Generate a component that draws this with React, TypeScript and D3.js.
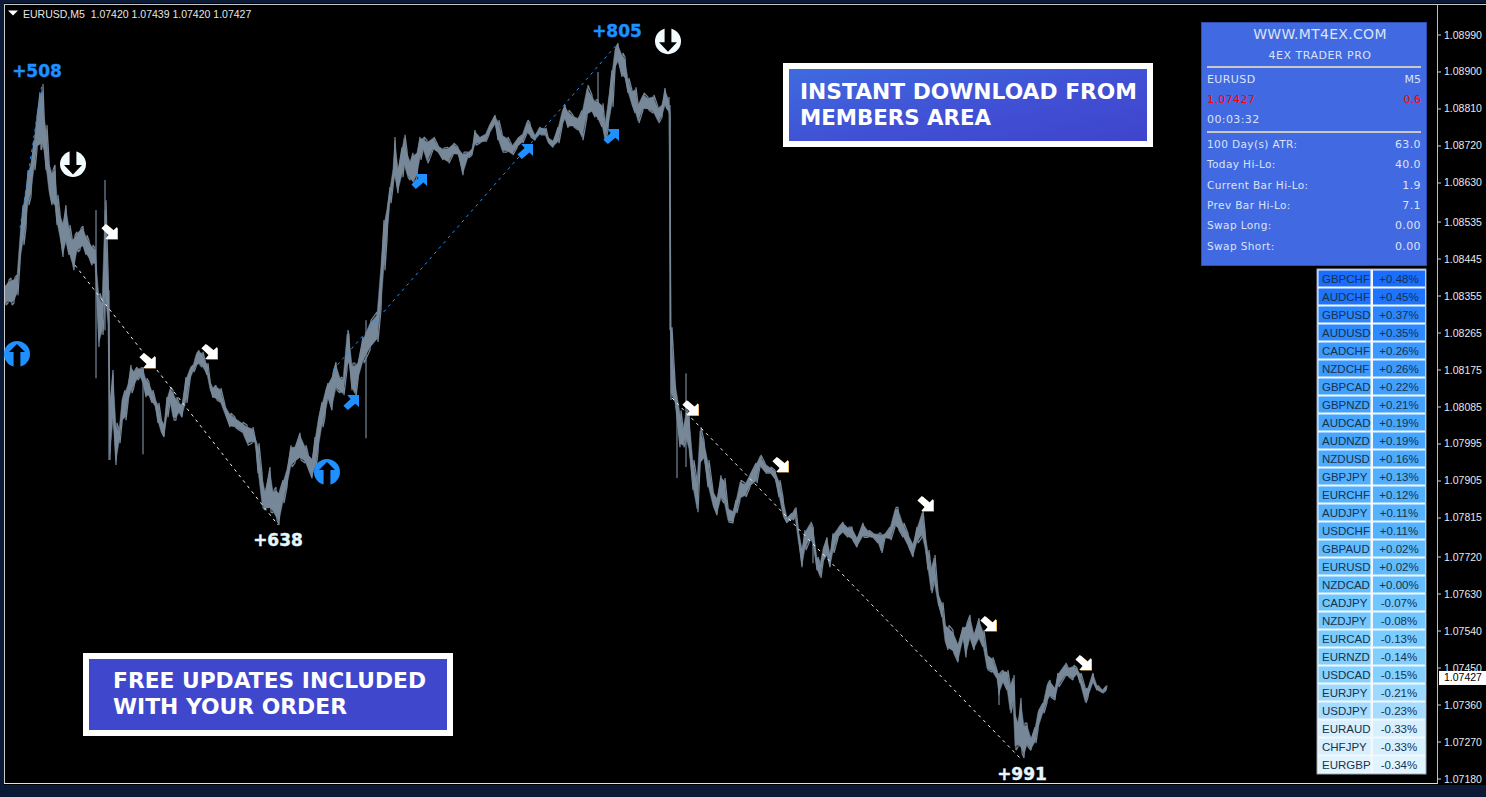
import React from "react";
import * as d3 from "d3";

// Each row: [bar number, high, low]
const legRally: number[][] = [
[5,1.08382,1.08333],[8,1.08394,1.08338],[11,1.08399,1.08333],[14,1.08401,1.08338],[17,1.08406,1.08357],[20,1.08508,1.08435],[23,1.08576,1.08479],[26,1.08625,1.0852],[28,1.08661,1.08576],[31,1.08686,1.08596],[34,1.08734,1.08661],[37,1.08807,1.0871],[40,1.08851,1.0871],[42,1.08871,1.08715],[44,1.08803,1.08698],[46,1.08771,1.08661],[49,1.08686,1.08601],[52,1.08661,1.08576],[55,1.08674,1.08564],[57,1.08601,1.08528],[60,1.08557,1.08491],[63,1.0854,1.0845],[66,1.08576,1.08479],[69,1.08528,1.08455],[72,1.08498,1.0843],[74,1.08503,1.08418],[77,1.08511,1.08462],[80,1.0852,1.08467],[83,1.08525,1.08472],[86,1.08503,1.08455],[89,1.08491,1.08442],[92,1.08479,1.0843],[95,1.08472,1.0843],[99,1.08362,1.08231],[102,1.08345,1.0826],[105,1.08588,1.08345],[108,1.08418,1.08272]
];
const legFall: number[][] = [
[110,1.08109,1.07956],[113,1.08175,1.08046],[116,1.08046,1.07944],[119,1.08029,1.07997],[122,1.08109,1.08046],[125,1.08126,1.08053],[128,1.08146,1.08095],[131,1.08187,1.08119],[134,1.08175,1.08133],[137,1.08182,1.0815],[140,1.0818,1.08158],[143,1.0818,1.08138],[146,1.08155,1.08109],[149,1.08146,1.08109],[152,1.08126,1.08095],[155,1.08107,1.08085],[158,1.08095,1.08046],[161,1.0806,1.08021],[164,1.08046,1.08012],[167,1.08109,1.0806],[170,1.08133,1.08095],[173,1.08126,1.08053],[176,1.08109,1.08053],[179,1.08095,1.0807],[182,1.08095,1.0806],[186,1.08158,1.08095],[190,1.08182,1.0815],[193,1.08187,1.0817],[196,1.08216,1.08182],[199,1.08223,1.08187],[202,1.08219,1.08182],[205,1.08199,1.0817],[207,1.08192,1.08163],[210,1.0815,1.08126],[213,1.08133,1.08107],[216,1.08138,1.08102],[220,1.08131,1.08097],[225,1.0809,1.08065],[230,1.0807,1.08036],[235,1.0806,1.08034],[242,1.08048,1.08024],[247,1.08041,1.07992],[252,1.08036,1.07997],[255,1.08012,1.07997],[258,1.07997,1.07924],[262,1.07924,1.07841],[265,1.07883,1.07834],[270,1.07939,1.07829],[273,1.07883,1.07827],[276,1.0789,1.0781],[279,1.07883,1.07798]
];
const legRebound: number[][] = [
[283,1.07907,1.07851],[287,1.07939,1.0789],[291,1.07992,1.07939],[295,1.07992,1.07949],[300,1.08022,1.07956],[305,1.07992,1.07949],[308,1.07973,1.07931],[312,1.07963,1.07912],[315,1.08012,1.07931],[318,1.0806,1.07973],[322,1.08097,1.08036],[325,1.08126,1.0806],[328,1.08143,1.08102],[332,1.08167,1.08077],[336,1.08194,1.08126],[340,1.08158,1.08119],[343,1.08155,1.08114],[347,1.08272,1.08175],[349,1.0826,1.08187],[352,1.08192,1.08126],[355,1.08192,1.08109],[358,1.08199,1.0815],[363,1.08255,1.08192],[370,1.08296,1.08223],[377,1.08316,1.08243],[381,1.08442,1.08321],[384,1.0854,1.08418],[387,1.08576,1.08491],[390,1.0862,1.08581],[393,1.08669,1.0862],[395,1.08742,1.08637],[398,1.08669,1.08605],[402,1.08717,1.08644],[404,1.08747,1.08669],[407,1.0871,1.08644],[410,1.08686,1.08637],[413,1.08703,1.08625],[417,1.0871,1.08644]
];
const legPlateau: number[][] = [
[420,1.08742,1.08686],[423,1.08742,1.0871],[427,1.08734,1.08678],[433,1.08742,1.0871],[438,1.08722,1.08703],[443,1.08715,1.08686],[448,1.08717,1.08678],[453,1.08727,1.08698],[458,1.08717,1.08698],[463,1.08705,1.08649],[468,1.08705,1.08691],[472,1.08715,1.08698],[475,1.08759,1.08722],[480,1.08742,1.08727],[485,1.08747,1.0873],[489,1.08771,1.08747],[495,1.08795,1.08771],[498,1.08783,1.08734],[502,1.08751,1.08705],[507,1.08742,1.08705],[512,1.08722,1.08698],[517,1.08739,1.08715],[522,1.08747,1.08727],[527,1.08783,1.08751],[530,1.08776,1.08742],[535,1.08747,1.08734],[540,1.08766,1.08747],[545,1.08764,1.08747],[548,1.08742,1.08727],[553,1.08734,1.08717],[558,1.08766,1.08727],[562,1.08807,1.08766],[565,1.0882,1.08783],[568,1.08807,1.08764],[573,1.08795,1.08766],[578,1.0879,1.08759],[582,1.08807,1.08734],[587,1.08868,1.0879],[592,1.08844,1.088],[595,1.08832,1.0879],[598,1.08832,1.08783],[602,1.08824,1.08766],[605,1.08776,1.0873],[608,1.08832,1.08759],[612,1.08905,1.08815],[615,1.08961,1.08905],[618,1.0897,1.08922],[622,1.08946,1.08888],[625,1.08936,1.0888],[628,1.08885,1.08849],[632,1.08856,1.08815],[635,1.08863,1.088],[638,1.08824,1.08776],[643,1.08849,1.08807],[648,1.08839,1.08807],[653,1.08844,1.088],[658,1.08815,1.08776],[662,1.08824,1.0879],[665,1.08861,1.08815],[668,1.08839,1.08807],[669,1.0882,1.08795]
];
const legCollapse: number[][] = [
[671,1.08279,1.08102],[675,1.0815,1.0809],[680,1.08077,1.07987],[683,1.08036,1.07987],[686,1.08077,1.08004],[689,1.0807,1.07973],[693,1.07956,1.07883],[697,1.07907,1.07829],[700,1.08036,1.07939],[704,1.08004,1.07956],[708,1.07956,1.0789],[713,1.07883,1.07841],[717,1.07866,1.07822],[721,1.07919,1.07859],[724,1.07912,1.07851],[728,1.07841,1.07805],[733,1.07834,1.07803],[736,1.07859,1.07827],[740,1.07907,1.07859],[745,1.079,1.07866],[750,1.07924,1.0789],[756,1.07949,1.079],[760,1.07968,1.07939],[765,1.07949,1.07924],[770,1.07939,1.07924],[775,1.07931,1.07907],[779,1.07907,1.07866],[783,1.07866,1.07817],[787,1.07817,1.07803],[792,1.07827,1.0781],[795,1.07841,1.07817],[798,1.07793,1.07761],[802,1.07744,1.07695],[805,1.07785,1.07737],[810,1.07805,1.07761],[813,1.07793,1.07749],[817,1.0772,1.07688],[820,1.07705,1.07669],[823,1.07744,1.07705],[827,1.07768,1.0772],[830,1.0773,1.07695],[833,1.07778,1.0773],[838,1.07793,1.07766],[843,1.07805,1.07778],[848,1.07793,1.07768],[852,1.07793,1.07761],[857,1.07768,1.07744],[863,1.07803,1.07768],[868,1.07785,1.07768],[873,1.07778,1.07766],[878,1.07778,1.07754],[881,1.07778,1.0773],[885,1.07778,1.07766],[890,1.07793,1.07761],[895,1.07841,1.07793],[898,1.07841,1.07785],[903,1.07803,1.07768],[908,1.07778,1.07744],[913,1.07754,1.0772],[917,1.07793,1.07754],[922,1.07834,1.07768]
];
const legFinal: number[][] = [
[925,1.07785,1.07737],[928,1.07737,1.07688],[931,1.07696,1.07632],[934,1.07725,1.07657],[938,1.07635,1.07603],[942,1.0761,1.07574],[945,1.07559,1.07511],[948,1.07554,1.07494],[953,1.07542,1.07486],[958,1.07511,1.07464],[963,1.0755,1.07518],[966,1.07559,1.07476],[970,1.07579,1.07518],[974,1.07535,1.07494],[979,1.07571,1.07518],[983,1.07542,1.07501],[987,1.07486,1.07445],[992,1.07476,1.0744],[997,1.07445,1.07421],[999,1.07438,1.07384],[1003,1.07445,1.07413],[1007,1.07445,1.07396],[1010,1.07413,1.0734],[1013,1.07433,1.07365],[1015,1.07348,1.0725],[1018,1.07323,1.07258],[1021,1.07377,1.07243],[1024,1.07316,1.07231],[1027,1.07316,1.07258],[1031,1.07282,1.0725],[1035,1.07306,1.07267],[1038,1.07348,1.07299],[1043,1.07365,1.0734],[1047,1.07413,1.07365],[1050,1.07421,1.07379],[1055,1.07404,1.07372],[1058,1.07438,1.07404],[1065,1.07462,1.07428],[1068,1.07452,1.07428],[1073,1.07457,1.07421],[1077,1.0745,1.07433],[1080,1.07438,1.07413],[1085,1.07404,1.07365],[1088,1.07404,1.07379],[1093,1.07438,1.07413],[1097,1.07408,1.07396],[1102,1.07396,1.07389],[1106,1.07408,1.07396]
];
// Long wicks: [bar, high, low]
const wicks: number[][] = [
[96,1.08564,1.08155],[105,1.08637,1.08272],[109,1.08369,1.07956],[143,1.0818,1.0797],[366,1.08296,1.08009],[598,1.089,1.08783],[670,1.0882,1.08272],[677,1.08085,1.07912],[686,1.08167,1.07939],[813,1.07793,1.07705],[999,1.07438,1.0736]
];

const axisTicks = [1.0899,1.089,1.0881,1.0872,1.0863,1.08535,1.08445,1.08355,1.08265,1.08175,1.08085,1.07995,1.07905,1.07815,1.0772,1.0763,1.0754,1.0745,1.0736,1.0727,1.0718];
const currentPrice = 1.07427;
const headerText = "EURUSD,M5  1.07420 1.07439 1.07420 1.07427";

const pairs = ["GBPCHF","AUDCHF","GBPUSD","AUDUSD","CADCHF","NZDCHF","GBPCAD","GBPNZD","AUDCAD","AUDNZD","NZDUSD","GBPJPY","EURCHF","AUDJPY","USDCHF","GBPAUD","EURUSD","NZDCAD","CADJPY","NZDJPY","EURCAD","EURNZD","USDCAD","EURJPY","USDJPY","EURAUD","CHFJPY","EURGBP"];
const pairChanges = [0.48,0.45,0.37,0.35,0.26,0.26,0.22,0.21,0.19,0.19,0.16,0.13,0.12,0.11,0.11,0.02,0.02,0.0,-0.07,-0.08,-0.13,-0.14,-0.15,-0.21,-0.23,-0.33,-0.33,-0.34];
const changeStops = [-0.34,-0.33,-0.23,-0.13,0,0.11,0.19,0.26,0.37,0.48];
const changeColors = ["#dff4ff","#d6f0ff","#a6dcff","#7ccdff","#62beff","#55b2ff","#46a5ff","#3c99ff","#2a85ff","#1a6dff"];

const panelRows = [["100 Day(s) ATR:","63.0"],["Today Hi-Lo:","40.0"],["Current Bar Hi-Lo:","1.9"],["Prev Bar Hi-Lo:","7.1"],["Swap Long:","0.00"],["Swap Short:","0.00"]];

const whiteLegs = [[75,1.0843,278,1.07798],[672,1.08107,1022,1.07226]];
const blueLegs = [[20,1.0852,42,1.08871],[333,1.08175,618,1.0897]];
const sellArrows = [[109,1.08511],[147,1.08197],[209,1.08219],[690,1.08082],[780,1.07944],[925,1.07849],[988,1.07557],[1083,1.07462]];
const buyArrows = [[351,1.08097],[419,1.08635],[525,1.08708],[611,1.08744]];
const buyCircles = [[17,1.08214],[327,1.07927]];
const sellCircles = [[73,1.08676],[668,1.08975]];
const gainLabels: [number, number, string, string][] = [
  [37,1.08888,"+508","#1e90ff"],
  [278,1.07747,"+638","#e6f6ff"],
  [617,1.08985,"+805","#1e90ff"],
  [1022,1.07177,"+991","#e6f6ff"],
];

const bars = [...legRally, ...legFall, ...legRebound, ...legPlateau, ...legCollapse, ...legFinal];

const x = d3.scaleLinear().domain([0, 1437]).range([0, 1437]);
const y = d3.scaleLinear().domain([1.0899, 1.0718]).range([35, 779]);
const changeColor = d3.scaleLinear<string>().domain(changeStops).range(changeColors);

// A saw-tooth running high, low, high, low through the bars gives the chart its rough edge.
const sawPoints: [number, number][] = bars.flatMap((d, i) =>
  (i % 2 === 0
    ? [[d[0], d[1]], [d[0] + 1, d[2]]]
    : [[d[0], d[2]], [d[0] + 1, d[1]]]) as [number, number][]
);
const saw = d3.line<[number, number]>().x(d => x(d[0])).y(d => y(d[1]));
// The band itself is drawn a little narrower than the saw-tooth so that the tips stand out.
const innerBand = d3.area<number[]>()
  .x(d => x(d[0]))
  .y0(d => y(d[2]) - (y(d[2]) - y(d[1])) * 0.1)
  .y1(d => y(d[1]) + (y(d[2]) - y(d[1])) * 0.1);

const SE = "M8,7 L8,-5 L4.4,-1.6 L-3.2,-8 L-7.6,-3.6 L-0.4,3 L-3.8,7 Z";
const NE = "M8,-7 L8,5 L4.4,1.6 L-3.2,8 L-7.6,3.6 L-0.4,-3 L-3.8,-7 Z";
const UP = "M0,-10 L8,-2 L3.4,-2 L3.4,13.5 L-3.4,13.5 L-3.4,-2 L-8,-2 Z";
const DOWN = "M0,10.5 L9,1 L3.4,1 L3.4,-13.5 L-3.4,-13.5 L-3.4,1 L-9,1 Z";

const ui = "'DejaVu Sans', Verdana, sans-serif";
const small = "'Liberation Sans', Arial, sans-serif";

export default function App() {
  return (
    <svg width={1486} height={797} style={{ position: "absolute", left: 0, top: 0, background: "#000" }}>
      <defs>
        <linearGradient id="btn" x1="0" y1="0" x2="1" y2="1">
          <stop offset="0" stopColor="#3f6ce0" />
          <stop offset="0.55" stopColor="#4050d4" />
          <stop offset="1" stopColor="#3f44cc" />
        </linearGradient>
        <clipPath id="plot"><rect x={5} y={5} width={1432} height={778} /></clipPath>
      </defs>
      {/* window frame */}
      <rect x={0} y={0} width={1486} height={3} fill="#0a1a35" />
      <rect x={0} y={0} width={4} height={797} fill="#0a1a35" />
      <rect x={0} y={785} width={1486} height={12} fill="#0a1a35" />
      <rect x={4} y={4} width={1482} height={1} fill="#c8c8c8" />
      <rect x={4} y={4} width={1} height={780} fill="#c8c8c8" />
      <rect x={4} y={783} width={1434} height={1} fill="#e0e0e0" />
      <rect x={1437} y={4} width={1} height={780} fill="#c0c0c0" />

      {/* axis */}
      {axisTicks.map(t => (
        <g key={t}>
          <line x1={1438} x2={1441} y1={y(t)} y2={y(t)} stroke="#d0d0d0" />
          <text x={1444} y={y(t) + 3.5} fontFamily={small} fontSize={10.5} fill="#e8e8e8">{t.toFixed(5)}</text>
        </g>
      ))}
      <rect x={1439} y={y(currentPrice) - 6.5} width={47} height={14} fill="#fff" />
      <text x={1444} y={y(currentPrice) + 4} fontFamily={small} fontSize={10.5} fill="#000">{currentPrice.toFixed(5)}</text>

      {/* price */}
      <g clipPath="url(#plot)">
        <path d={innerBand(bars) ?? ""} fill="#778899" stroke="#778899" strokeWidth={0.5} />
        <path d={saw(sawPoints) ?? ""} fill="none" stroke="#778899" strokeWidth={1.2} strokeLinejoin="bevel" />
        {wicks.map(w => (
          <line key={w[0]} x1={x(w[0])} x2={x(w[0])} y1={y(w[1])} y2={y(w[2])} stroke="#778899" strokeWidth={1.2} />
        ))}
        {whiteLegs.map((l, i) => (
          <line key={i} x1={x(l[0])} y1={y(l[1])} x2={x(l[2])} y2={y(l[3])} stroke="#e8f4f4" strokeWidth={1} strokeDasharray="3 4" />
        ))}
        {blueLegs.map((l, i) => (
          <line key={i} x1={x(l[0])} y1={y(l[1])} x2={x(l[2])} y2={y(l[3])} stroke="#1e90ff" strokeWidth={1} strokeDasharray="3 4" />
        ))}
      </g>

      {/* signals */}
      {sellArrows.map((a, i) => (
        <g key={i} transform={`translate(${x(a[0])},${y(a[1])})`}>
          <path d={SE} transform="translate(1,0.5)" fill="#f0c060" />
          <path d={SE} fill="#fff" />
        </g>
      ))}
      {buyArrows.map((a, i) => (
        <path key={i} d={NE} transform={`translate(${x(a[0])},${y(a[1])})`} fill="#1e90ff" />
      ))}
      {buyCircles.map((a, i) => (
        <g key={i} transform={`translate(${x(a[0])},${y(a[1])})`}>
          <circle r={13} fill="#1e90ff" />
          <path d={UP} fill="#000" />
        </g>
      ))}
      {sellCircles.map((a, i) => (
        <g key={i} transform={`translate(${x(a[0])},${y(a[1])})`}>
          <circle r={13} fill="#f2fbff" />
          <path d={DOWN} fill="#000" />
        </g>
      ))}
      {gainLabels.map(l => (
        <text key={l[2]} x={x(l[0])} y={y(l[1])} textAnchor="middle" fontFamily={ui} fontWeight="bold" fontSize={17} fill={l[3]} stroke={l[3]} strokeWidth={0.4}>{l[2]}</text>
      ))}

      {/* header */}
      <path d="M8,10.5 L18,10.5 L13,15.5 Z" fill="#fff" />
      <text x={23} y={18} fontFamily={small} fontSize={10.5} fill="#e6e6e6" xmlSpace="preserve">{headerText}</text>

      {/* info panel */}
      <rect x={1201.5} y={22.5} width={225} height={243} fill="#4169e1" stroke="#2f4fb0" />
      <g fontFamily={ui} fill="#dbe3f6">
        <text x={1320} y={39} textAnchor="middle" fontSize={14} letterSpacing={0.3}>WWW.MT4EX.COM</text>
        <text x={1320} y={59} textAnchor="middle" fontSize={11} letterSpacing={0.5}>4EX TRADER PRO</text>
        <rect x={1207} y={66} width={214} height={2} fill="#c8c8c8" />
        <rect x={1207} y={131} width={214} height={2} fill="#c8c8c8" />
        <text x={1207} y={83} fontSize={11} letterSpacing={0.4}>EURUSD</text>
        <text x={1421} y={83} fontSize={11} textAnchor="end">M5</text>
        <text x={1207} y={103} fontSize={11} letterSpacing={0.4} fill="#ff0000">1.07427</text>
        <text x={1421} y={103} fontSize={11} textAnchor="end" fill="#ff0000">0.6</text>
        <text x={1207} y={123} fontSize={11} letterSpacing={0.4}>00:03:32</text>
        {panelRows.map((r, i) => (
          <g key={r[0]}>
            <text x={1207} y={148 + i * 20.3} fontSize={10.5} letterSpacing={0.4}>{r[0]}</text>
            <text x={1421} y={148 + i * 20.3} fontSize={11} textAnchor="end" letterSpacing={0.4}>{r[1]}</text>
          </g>
        ))}
      </g>

      {/* currency strength table */}
      <rect x={1317} y={269} width={109} height={505} fill="#f4f8fc" stroke="#9aa4b0" strokeWidth={1} />
      {pairs.map((p, i) => (
        <g key={p}>
          <rect x={1318.5} y={270.5 + i * 18} width={52} height={16} fill={changeColor(pairChanges[i])} />
          <rect x={1373} y={270.5 + i * 18} width={52} height={16} fill={changeColor(pairChanges[i])} />
          <text x={1322} y={283 + i * 18} fontFamily={small} fontSize={11.5} fill="#17324d">{p}</text>
          <text x={1399} y={283 + i * 18} textAnchor="middle" fontFamily={small} fontSize={11.5} fill="#17324d">
            {(pairChanges[i] >= 0 ? "+" : "-") + Math.abs(pairChanges[i]).toFixed(2) + "%"}
          </text>
        </g>
      ))}

      {/* banners */}
      <rect x={786} y={66} width={364} height={78} fill="url(#btn)" stroke="#fff" strokeWidth={6} />
      <text x={800} y={98.5} fontFamily={ui} fontWeight="bold" fontSize={21} fill="#fff" textLength={337} lengthAdjust="spacingAndGlyphs">INSTANT DOWNLOAD FROM</text>
      <text x={800} y={124.5} fontFamily={ui} fontWeight="bold" fontSize={21} fill="#fff" textLength={191} lengthAdjust="spacingAndGlyphs">MEMBERS AREA</text>

      <rect x={86} y={656} width={364} height={77} fill="#3f47cc" stroke="#fff" strokeWidth={6} />
      <text x={113} y={688} fontFamily={ui} fontWeight="bold" fontSize={21} fill="#fff" textLength={313} lengthAdjust="spacingAndGlyphs">FREE UPDATES INCLUDED</text>
      <text x={113} y={714} fontFamily={ui} fontWeight="bold" fontSize={21} fill="#fff" textLength={234} lengthAdjust="spacingAndGlyphs">WITH YOUR ORDER</text>
    </svg>
  );
}
